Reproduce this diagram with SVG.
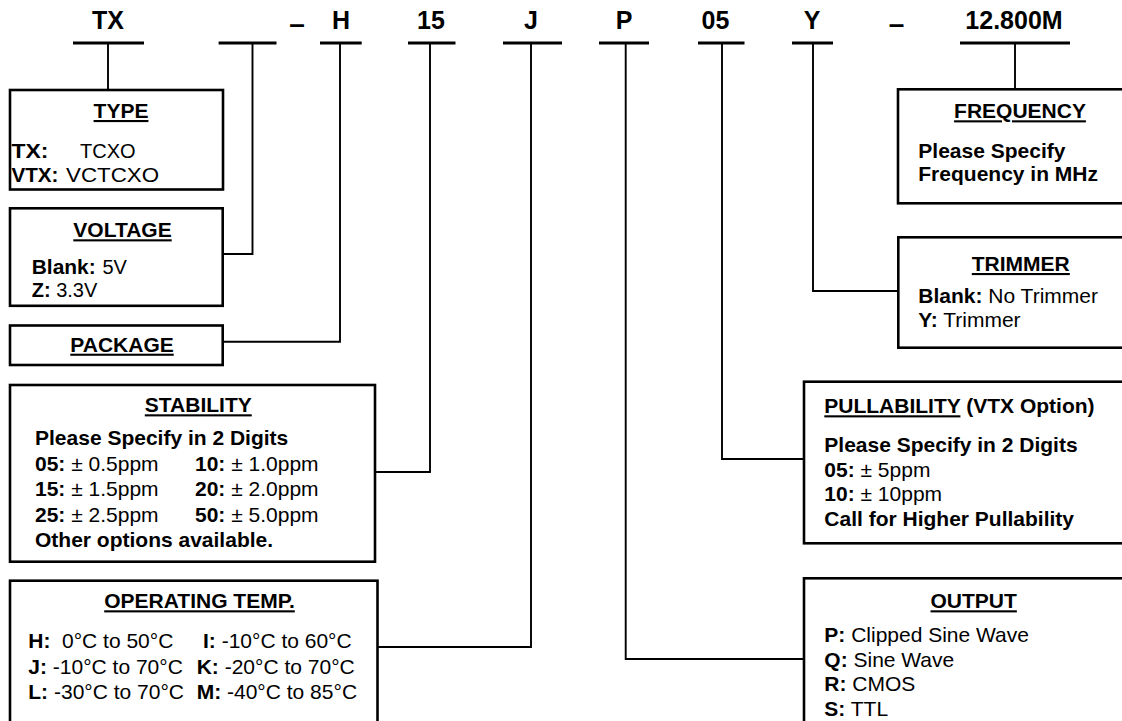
<svg xmlns="http://www.w3.org/2000/svg" width="1122" height="721" viewBox="0 0 1122 721">
<style>
.bg{fill:#fff}
.box{fill:#fff;stroke:#000;stroke-width:2.6}
.con{fill:none;stroke:#000;stroke-width:1.9}
.ul{stroke:#000;stroke-width:3}
text{font-family:"Liberation Sans",Arial,sans-serif;fill:#000}
.top{font-size:25px;font-weight:bold;text-anchor:middle}
.dash{font-size:28px;font-weight:bold;text-anchor:middle}
.t{font-size:21px;font-weight:bold;text-decoration:underline}
.c{text-anchor:middle}
.b{font-size:21px}
.s{font-size:20px}
.k{font-weight:bold}
</style>
<rect class="bg" x="0" y="0" width="1122" height="721"/>
<g id="code">
<text class="top" x="108" y="29">TX</text>
<text class="dash" x="297" y="33">–</text>
<text class="top" x="341" y="29">H</text>
<text class="top" x="431" y="29">15</text>
<text class="top" x="531" y="29">J</text>
<text class="top" x="624" y="29">P</text>
<text class="top" x="715.5" y="29">05</text>
<text class="top" x="812" y="29">Y</text>
<text class="dash" x="896.5" y="33">–</text>
<text class="top" x="1014" y="29">12.800M</text>
<line class="ul" x1="73" y1="43" x2="144" y2="43"/>
<line class="ul" x1="218.6" y1="43" x2="276.5" y2="43"/>
<line class="ul" x1="320" y1="43" x2="361.7" y2="43"/>
<line class="ul" x1="408" y1="43" x2="455.5" y2="43"/>
<line class="ul" x1="503" y1="43" x2="562" y2="43"/>
<line class="ul" x1="599" y1="43" x2="649" y2="43"/>
<line class="ul" x1="698" y1="43" x2="744.5" y2="43"/>
<line class="ul" x1="792" y1="43" x2="833" y2="43"/>
<line class="ul" x1="960" y1="43" x2="1070" y2="43"/>
</g>
<g id="connectors">
<path class="con" d="M108,43 V90"/>
<path class="con" d="M252.5,43 V254 H223"/>
<path class="con" d="M340,43 V341.7 H223"/>
<path class="con" d="M430,43 V472 H375"/>
<path class="con" d="M531,43 V647 H378"/>
<path class="con" d="M625.7,43 V659 H804"/>
<path class="con" d="M722,43 V459 H804"/>
<path class="con" d="M813,43 V291 H898"/>
<path class="con" d="M1015,43 V89"/>
</g>
<g id="type">
<rect class="box" x="10" y="90" width="213" height="99.5"/>
<text class="t c" x="121" y="118">TYPE</text>
<text class="s k" x="11.5" y="158" textLength="37" lengthAdjust="spacingAndGlyphs">TX:</text>
<text class="s" x="80" y="158">TCXO</text>
<text class="s k" x="11.5" y="181.5" textLength="47" lengthAdjust="spacingAndGlyphs">VTX:</text>
<text class="s" x="66" y="181.5" textLength="93" lengthAdjust="spacingAndGlyphs">VCTCXO</text>
</g>
<g id="voltage">
<rect class="box" x="10" y="208.3" width="212.7" height="97.5"/>
<text class="t c" x="122.5" y="237.3">VOLTAGE</text>
<text class="s k" x="31.7" y="274" textLength="64" lengthAdjust="spacingAndGlyphs">Blank:</text>
<text class="s" x="102.5" y="274">5V</text>
<text class="s" x="31.7" y="297"><tspan class="k">Z:</tspan> 3.3V</text>
</g>
<g id="package">
<rect class="box" x="10" y="325.5" width="212.7" height="39.5"/>
<text class="t c" x="122" y="351.7">PACKAGE</text>
</g>
<g id="stability">
<rect class="box" x="10" y="385" width="365" height="176.7"/>
<text class="t c" x="198.3" y="412.3">STABILITY</text>
<text class="b k" x="35" y="445">Please Specify in 2 Digits</text>
<text class="b" x="35" y="471"><tspan class="k">05:</tspan> ± 0.5ppm</text>
<text class="b" x="195" y="471"><tspan class="k">10:</tspan> ± 1.0ppm</text>
<text class="b" x="35" y="496"><tspan class="k">15:</tspan> ± 1.5ppm</text>
<text class="b" x="195" y="496"><tspan class="k">20:</tspan> ± 2.0ppm</text>
<text class="b" x="35" y="521.7"><tspan class="k">25:</tspan> ± 2.5ppm</text>
<text class="b" x="195" y="521.7"><tspan class="k">50:</tspan> ± 5.0ppm</text>
<text class="b k" x="35" y="546.7">Other options available.</text>
</g>
<g id="operating-temp">
<rect class="box" x="10" y="580.7" width="367.5" height="150"/>
<text class="t c" x="199.5" y="608.3">OPERATING TEMP.</text>
<text class="b k" x="28.3" y="648.3">H:</text>
<text class="b" x="62" y="648.3">0°C to 50°C</text>
<text class="b" x="203" y="648.3"><tspan class="k">I:</tspan> -10°C to 60°C</text>
<text class="b" x="28.3" y="674"><tspan class="k">J:</tspan> -10°C to 70°C</text>
<text class="b" x="196.7" y="674"><tspan class="k">K:</tspan> -20°C to 70°C</text>
<text class="b" x="28.3" y="699.3"><tspan class="k">L:</tspan> -30°C to 70°C</text>
<text class="b" x="196.7" y="699.3"><tspan class="k">M:</tspan> -40°C to 85°C</text>
</g>
<g id="frequency">
<rect class="box" x="898" y="89.3" width="240" height="114"/>
<text class="t c" x="1020" y="118.3">FREQUENCY</text>
<text class="b k" x="918.3" y="157.5">Please Specify</text>
<text class="b k" x="918.3" y="181">Frequency in MHz</text>
</g>
<g id="trimmer">
<rect class="box" x="898.3" y="237.3" width="240" height="110.4"/>
<text class="t c" x="1020.8" y="271">TRIMMER</text>
<text class="b" x="918.3" y="302.7"><tspan class="k">Blank:</tspan> No Trimmer</text>
<text class="b" x="918.3" y="326.7"><tspan class="k">Y:</tspan> Trimmer</text>
</g>
<g id="pullability">
<rect class="box" x="804" y="381.7" width="340" height="161.6"/>
<text class="b k" x="824.3" y="413.3"><tspan style="text-decoration:underline">PULLABILITY</tspan> (VTX Option)</text>
<text class="b k" x="824.3" y="451.7">Please Specify in 2 Digits</text>
<text class="b" x="824.3" y="477.3"><tspan class="k">05:</tspan> ± 5ppm</text>
<text class="b" x="824.3" y="501.3"><tspan class="k">10:</tspan> ± 10ppm</text>
<text class="b k" x="824.3" y="525.7">Call for Higher Pullability</text>
</g>
<g id="output">
<rect class="box" x="804" y="578.3" width="340" height="160"/>
<text class="t c" x="973.7" y="608.3">OUTPUT</text>
<text class="b" x="824.3" y="642.3"><tspan class="k">P:</tspan> Clipped Sine Wave</text>
<text class="b" x="824.3" y="666.5"><tspan class="k">Q:</tspan> Sine Wave</text>
<text class="b" x="824.3" y="691"><tspan class="k">R:</tspan> CMOS</text>
<text class="b" x="824.3" y="715.5"><tspan class="k">S:</tspan> TTL</text>
</g>
</svg>
